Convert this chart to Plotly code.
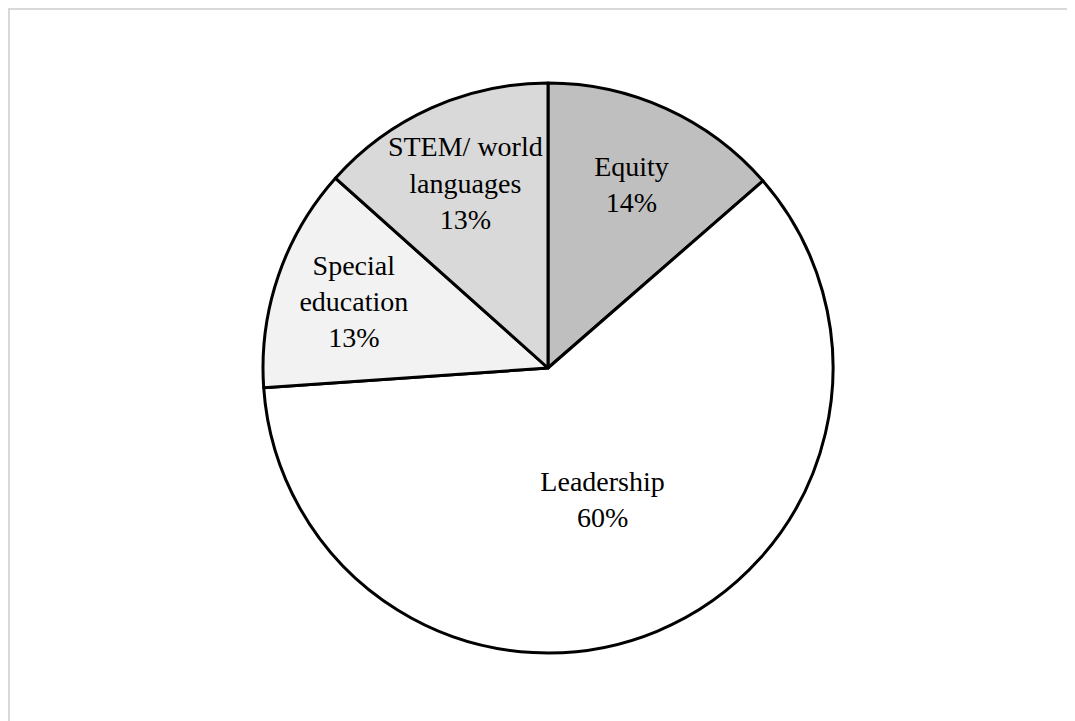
import plotly.graph_objects as go

labels = ["Equity", "Leadership", "Special education", "STEM/ world languages"]
display_labels = ["Equity", "Leadership", "Special<br>education", "STEM/ world<br>languages"]
values = [13.6, 60.3, 12.7, 13.4]
colors = ["#bfbfbf", "#ffffff", "#f2f2f2", "#d9d9d9"]

W, H = 1075, 721
cx, cy, r = 540, 360, 285

fig = go.Figure(go.Pie(
    labels=labels,
    values=values,
    customdata=display_labels,
    sort=False,
    direction="clockwise",
    rotation=0,
    marker=dict(colors=colors, line=dict(color="#000000", width=3)),
    texttemplate="%{customdata}<br>%{percent:.0%}",
    textposition="inside",
    insidetextorientation="horizontal",
    textfont=dict(family="Liberation Serif, Times New Roman, serif", size=28, color="#000000"),
    hoverinfo="label+percent",
    showlegend=False,
    domain=dict(x=[(cx - r) / W, (cx + r) / W], y=[1 - (cy + r) / H, 1 - (cy - r) / H]),
))

fig.update_layout(
    width=W, height=H,
    margin=dict(l=0, r=0, t=0, b=0),
    paper_bgcolor="#ffffff",
    plot_bgcolor="#ffffff",
    uniformtext=dict(minsize=28, mode="show"),
    shapes=[dict(type="rect", xref="paper", yref="paper",
                 x0=1 / W, x1=1.02, y0=-0.02, y1=1 - 1 / H,
                 line=dict(color="#d9d9d9", width=2), fillcolor="rgba(0,0,0,0)", layer="below")],
)

fig.write_html("out.html")
